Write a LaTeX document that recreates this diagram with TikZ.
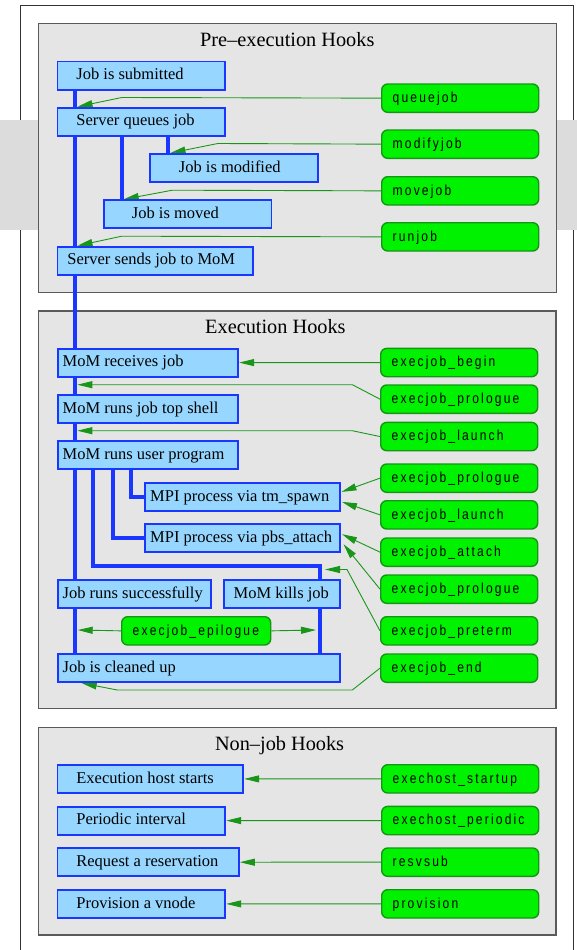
\documentclass[tikz,border=0pt]{standalone}
\usepackage{fontspec}
\setmainfont{Liberation Serif}
\newfontfamily\hookfont[FakeStretch=0.83,LetterSpace=15]{Liberation Sans}
\usetikzlibrary{arrows.meta,calc}
\definecolor{bfill}{RGB}{151,215,255}
\definecolor{bline}{RGB}{25,55,255}
\definecolor{gfill}{RGB}{0,242,0}
\definecolor{gline}{RGB}{20,150,20}
\definecolor{garrow}{RGB}{25,150,25}
\definecolor{pfill}{RGB}{229,229,229}
\definecolor{pline}{RGB}{90,90,90}
\definecolor{bandgray}{RGB}{220,220,220}
\newcommand\boxlbl[2]{\makebox[#1][l]{#2}}
\pgfdeclarelayer{bg}
\pgfdeclarelayer{wires}
\pgfsetlayers{bg,wires,main}
\tikzset{
  jbox/.style={draw=bline, fill=bfill, line width=1.8pt, rectangle, anchor=north west,
    minimum height=28pt, inner ysep=0pt, text height=12.4pt, text depth=3.8pt,
    font=\fontsize{16.5}{18}\selectfont},
  hbox/.style={draw=gline, fill=gfill, line width=1.4pt, rounded corners=6pt, anchor=north west,
    minimum height=28.3pt, inner ysep=0pt, inner xsep=11pt, text height=11.6pt, text depth=3.1pt,
    text=black, font=\hookfont\fontsize{14.5}{16}\selectfont},
  panel/.style={draw=pline, fill=pfill, line width=1.1pt},
  ptitle/.style={anchor=base west, inner sep=0pt, font=\fontsize{20.3}{24}\selectfont},
  lane/.style={draw=bline, line width=4pt, line join=miter},
  hookline/.style={draw=garrow, line width=0.9pt, -{Triangle[length=15pt,width=7pt]}},
}
\begin{document}
\begin{tikzpicture}[x=1pt,y=-1pt]
\useasboundingbox (0,0) rectangle (577,950);
\begin{pgfonlayer}{bg}
  \fill[white] (0,0) rectangle (577,950);
  \draw[black!80, line width=0.9pt] (20,952) -- (20,5) -- (573,5) -- (573,952);
  \fill[bandgray] (0,120) rectangle (577,230);
  \draw[panel] (38.8,23.3) rectangle (556.5,292.3);
  \draw[panel] (38.3,311) rectangle (556,708.3);
  \draw[panel] (38.8,727.3) rectangle (556,935);
\end{pgfonlayer}

% titles
\node[ptitle] (t1) at (200,46.7) {Pre--execution Hooks};
\node[ptitle] (t2) at (205,333.3) {Execution Hooks};
\node[ptitle] (t3) at (214.8,750.7) {Non--job Hooks};

% job boxes
\node[jbox, inner xsep=19pt] (js) at (56.5,60.7) {\boxlbl{129.5pt}{Job is submitted}};
\node[jbox, inner xsep=19pt] (sq) at (56.5,106.7) {\boxlbl{129.5pt}{Server queues job}};
\node[jbox, inner xsep=29pt] (jmod) at (149,153) {\boxlbl{109.7pt}{Job is modified}};
\node[jbox, inner xsep=28pt] (jmov) at (103,199.3) {\boxlbl{111.6pt}{Job is moved}};
\node[jbox, inner xsep=10pt] (ss) at (56.5,245.7) {\boxlbl{175.5pt}{Server sends job to MoM}};
\node[jbox, inner xsep=5pt] (mr) at (56.7,347.7) {\boxlbl{170.6pt}{MoM receives job}};
\node[jbox, inner xsep=5pt] (mt) at (56.7,394) {\boxlbl{170.6pt}{MoM runs job top shell}};
\node[jbox, inner xsep=5pt] (mu) at (56.7,440.3) {\boxlbl{170.6pt}{MoM runs user program}};
\node[jbox, inner xsep=5pt] (tm) at (144.3,482) {\boxlbl{184.4pt}{MPI process via tm\_spawn}};
\node[jbox, inner xsep=5pt] (pa) at (144.3,523.3) {\boxlbl{184.4pt}{MPI process via pbs\_attach}};
\node[jbox, inner xsep=5pt] (jr) at (56.7,579) {\boxlbl{143.3pt}{Job runs successfully}};
\node[jbox, inner xsep=10pt] (mk) at (222.7,579) {\boxlbl{96.3pt}{MoM kills job}};
\node[jbox, inner xsep=5pt] (cu) at (56.7,653.3) {\boxlbl{272.3pt}{Job is cleaned up}};
\node[jbox, inner xsep=19pt] (eh) at (56.5,764) {\boxlbl{147.9pt}{Execution host starts}};
\node[jbox, inner xsep=19pt] (pi) at (56.5,805.7) {\boxlbl{129.9pt}{Periodic interval}};
\node[jbox, inner xsep=19pt] (rr) at (56.5,847.3) {\boxlbl{143.5pt}{Request a reservation}};
\node[jbox, inner xsep=19pt] (pv) at (56.5,889) {\boxlbl{129.9pt}{Provision a vnode}};

% hook boxes
\node[hbox] (g1) at (381,83.3) {\boxlbl{135pt}{queuejob}};
\node[hbox] (g2) at (381,129.3) {\boxlbl{135pt}{modifyjob}};
\node[hbox] (g3) at (381,176) {\boxlbl{135pt}{movejob}};
\node[hbox] (g4) at (381,222) {\boxlbl{135pt}{runjob}};
\node[hbox] (g5) at (380,347.7) {\boxlbl{135pt}{execjob\_begin}};
\node[hbox] (g6) at (380,384.3) {\boxlbl{135pt}{execjob\_prologue}};
\node[hbox] (g7) at (380,421.7) {\boxlbl{135pt}{execjob\_launch}};
\node[hbox] (g8) at (380,463.3) {\boxlbl{135pt}{execjob\_prologue}};
\node[hbox] (g9) at (380,500) {\boxlbl{135pt}{execjob\_launch}};
\node[hbox] (g10) at (380,537.3) {\boxlbl{135pt}{execjob\_attach}};
\node[hbox] (g11) at (380,574.3) {\boxlbl{135pt}{execjob\_prologue}};
\node[hbox] (g12) at (380,616) {\boxlbl{135pt}{execjob\_preterm}};
\node[hbox] (g13) at (380,653.3) {\boxlbl{135pt}{execjob\_end}};
\node[hbox] (ge) at (121,616) {\boxlbl{127pt}{execjob\_epilogue}};
\node[hbox] (g14) at (381,764) {\boxlbl{135pt}{exechost\_startup}};
\node[hbox] (g15) at (381,805.7) {\boxlbl{135pt}{exechost\_periodic}};
\node[hbox] (g16) at (381,847.3) {\boxlbl{135pt}{resvsub}};
\node[hbox] (g17) at (381,889) {\boxlbl{135pt}{provision}};

% lane x positions and free ends
\coordinate (x0) at (75.3,0);
\coordinate (xB) at (121.8,0);
\coordinate (xM) at (168.3,0);
\coordinate (xC) at (93.3,0);
\coordinate (xD) at (112.7,0);
\coordinate (xE) at (130.7,0);
\coordinate (kb) at (320,566);
\coordinate (t6) at (77.3,384.7);
\coordinate (t7) at (77.3,430.7);
\coordinate (t12) at (325,569.5);
\coordinate (te1) at (77.7,630);
\coordinate (te2) at (316,630);

\begin{pgfonlayer}{wires}
  \draw[lane] (js.south -| x0) -- (cu.north -| x0);
  \draw[lane] (sq.south -| xB) -- (jmov.north -| xB);
  \draw[lane] (sq.south -| xM) -- (jmod.north -| xM);
  \draw[lane] (mu.south -| xE) |- (tm.west);
  \draw[lane] (mu.south -| xD) |- (pa.west);
  \draw[lane] (mu.south -| xC) |- (kb) -- (cu.north -| kb);

  \draw[hookline] (g1.west) -- (121.8,97.5) -- ($(sq.north west)+(21,0)$);
  \draw[hookline] (g2.west) -- (217.8,143.5) -- ($(jmod.north west)+(21.5,0)$);
  \draw[hookline] (g3.west) -- (172.4,190.2) -- ($(jmov.north west)+(20.7,0)$);
  \draw[hookline] (g4.west) -- (121.8,236.2) -- ($(ss.north west)+(21,0)$);
  \draw[hookline] (g5.west) -- (mr.east);
  \draw[hookline] (g6.west) -- (352.3,384.7) -- (t6);
  \draw[hookline] (g7.west) -- (352.3,430.7) -- (t7);
  \draw[hookline] (g8.west) -- ($(tm.east)+(1,-5)$);
  \draw[hookline] (g9.west) -- ($(tm.east)+(1.5,5)$);
  \draw[hookline] (g10.west) -- ($(pa.east)+(1.5,-4)$);
  \draw[hookline] (g11.west) -- ($(pa.east)+(3,6)$);
  \draw[hookline] (g12.west) -- (347,569.5) -- (t12);
  \draw[hookline] (g13.west) -- (352.3,690) -- (117.3,690) -- ($(cu.south west)+(25,0)$);
  \draw[hookline] (ge.west) -- (te1);
  \draw[hookline] (ge.east) -- (te2);
  \draw[hookline] (g14.west) -- (eh.east);
  \draw[hookline] (g15.west) -- (pi.east);
  \draw[hookline] (g16.west) -- (rr.east);
  \draw[hookline] (g17.west) -- (pv.east);
\end{pgfonlayer}
\end{tikzpicture}
\end{document}
